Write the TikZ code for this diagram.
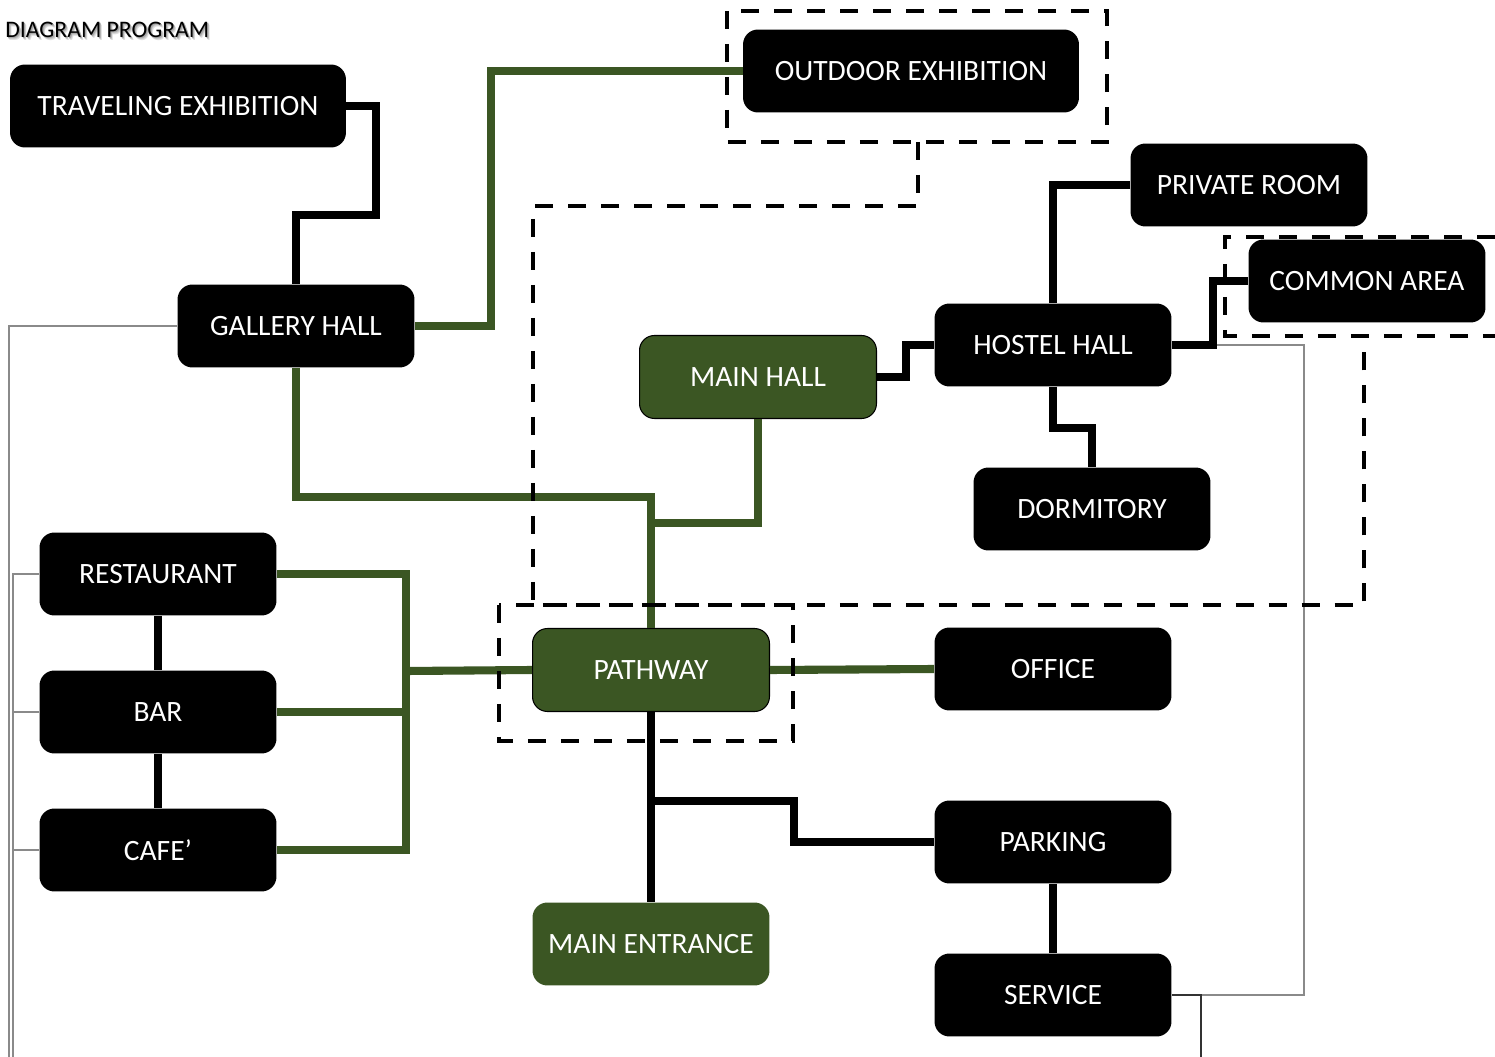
\documentclass[tikz,border=0pt]{standalone}
\usepackage{fontspec}
\setmainfont{Carlito}
\usepackage{xcolor}
\usetikzlibrary{positioning}
\definecolor{hubgreen}{HTML}{3B5623}
\definecolor{wiregray}{HTML}{8A8A8A}
\tikzset{
  room/.style={rectangle,rounded corners=8.5pt,fill=black,text=white,
    minimum width=4.74cm,minimum height=1.66cm,inner sep=0pt,
    font=\fontsize{16.8}{20}\selectfont},
  wideroom/.style={room,minimum width=6.72cm},
  hub/.style={room,fill=hubgreen,draw=black,line width=0.6pt},
  blacklink/.style={line width=4.6pt,black},
  greenlink/.style={line width=4.6pt,hubgreen},
  zone/.style={line width=2.3pt,black,dash pattern=on 0.36cm off 0.3cm},
  wire/.style={line width=0.8pt,wiregray},
  heading/.style={anchor=west,inner sep=0pt,font=\fontsize{13.5}{16}\selectfont},
}

\begin{document}
\begin{tikzpicture}[x=0.02cm,y=-0.02cm]
  \useasboundingbox (0,0) rectangle (1495,1057);

  % title with its soft shadow
  \foreach \d/\s in {2.5/12,1.8/22,1.2/35}
    \node[heading,text=black!\s] at (5+\d,30+\d) {DIAGRAM PROGRAM};
  \node[heading] (title) at (5,30) {DIAGRAM PROGRAM};

  % rooms
  \node[wideroom] (trav) at (178,106) {TRAVELING EXHIBITION};
  \node[room] (gallery) at (296,326) {GALLERY HALL};
  \node[wideroom] (outdoor) at (911,71) {OUTDOOR EXHIBITION};
  \node[room] (private) at (1249,185) {PRIVATE ROOM};
  \node[room] (common) at (1367,281) {COMMON AREA};
  \node[hub] (mainhall) at (758,377) {MAIN HALL};
  \node[room] (hostel) at (1053,345) {HOSTEL HALL};
  \node[room] (dorm) at (1092,509) {DORMITORY};
  \node[room] (rest) at (158,574) {RESTAURANT};
  \node[room] (bar) at (158,712) {BAR};
  \node[room] (cafe) at (158,850) {CAFE’};
  \node[hub] (pathway) at (651,670) {PATHWAY};
  \node[room] (office) at (1053,669) {OFFICE};
  \node[room] (parking) at (1053,842) {PARKING};
  \node[hub,draw=none] (entrance) at (651,944) {MAIN ENTRANCE};
  \node[room] (service) at (1053,995) {SERVICE};

  % free ends and branch points
  \coordinate (leftend) at (9,1057);
  \coordinate (leftend2) at (13,1057);
  \coordinate (rightend) at (1201,1057);
  \coordinate (fork) at (651,801);
  \coordinate (split) at (406,671);

  % thin service wires
  \draw[wire] (gallery.west) -| (leftend);
  \draw[wire] (rest.west) -| (leftend2);
  \draw[wire] (bar.west) -- (13,712);
  \draw[wire] (cafe.west) -- (13,850);
  \draw[wire] (hostel.east) -| (1304,995) -- (service.east);
  \draw[line width=0.8pt,black!80] (service.east) -| (rightend);

  % black links
  \draw[blacklink] (trav.east) -| (376,215) -| (gallery.north);
  \draw[blacklink] (private.west) -| (hostel.north);
  \draw[blacklink] (hostel.east) -- (1213,345) |- (common.west);
  \draw[blacklink] (hostel.south) -- (1053,428) -| (dorm.north);
  \draw[blacklink] (mainhall.east) -- (906,377) |- (hostel.west);
  \draw[blacklink] (pathway.south) -- (entrance.north);
  \draw[blacklink] (fork) -- (794,801) |- (parking.west);
  \draw[blacklink] (parking.south) -- (service.north);
  \draw[blacklink] (rest.south) -- (bar.north);
  \draw[blacklink] (bar.south) -- (cafe.north);

  % green links
  \draw[greenlink] (gallery.east) -- (491,326) |- (outdoor.west);
  \draw[greenlink] (gallery.south) -- (296,497) -| (pathway.north);
  \draw[greenlink] (mainhall.south) -- (758,523) -| (pathway.north);
  \draw[greenlink] (rest.east) -- (406,574) |- (cafe.east);
  \draw[greenlink] (bar.east) -- (406,712);
  \draw[greenlink] (split) -- (pathway.west);
  \draw[greenlink] (pathway.east) -- (office.west);

  % zones
  \draw[zone] (727,11) rectangle (1107,142);
  \draw[zone] (918,142) -- (918,206) -- (533,206) -- (533,605)
    -- (1364,605) -- (1364,336);
  \draw[zone] (1495,237) -- (1225,237) -- (1225,336) -- (1495,336);
  \draw[zone] (499,605) rectangle (793,741);
\end{tikzpicture}
\end{document}
